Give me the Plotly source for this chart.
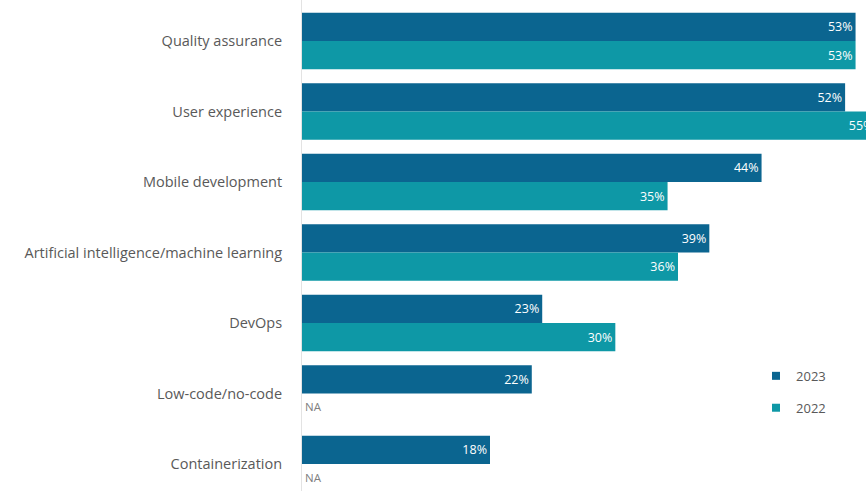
import plotly.graph_objects as go

categories = [
    "Quality assurance",
    "User experience",
    "Mobile development",
    "Artificial intelligence/machine learning",
    "DevOps",
    "Low-code/no-code",
    "Containerization",
]
values_2023 = [53, 52, 44, 39, 23, 22, 18]
values_2022 = [53, 55, 35, 36, 30, None, None]

color_2023 = "#0b6590"
color_2022 = "#0e98a6"
font_family = "'Open Sans', Lato, sans-serif"

fig = go.Figure()

for name, vals, color in [("2023", values_2023, color_2023), ("2022", values_2022, color_2022)]:
    fig.add_trace(go.Bar(
        y=categories,
        x=vals,
        orientation="h",
        name=name,
        marker=dict(color=color, line=dict(width=0)),
        text=[f"{v}%" if v is not None else "" for v in vals],
        textposition="inside",
        insidetextanchor="end",
        textfont=dict(color="white", size=12.5, family=font_family),
        showlegend=False,
        hoverinfo="skip",
    ))

# Legend entries as small square markers
for name, color in [("2023", color_2023), ("2022", color_2022)]:
    fig.add_trace(go.Scatter(
        x=[None], y=[None], mode="markers", name=name,
        legendgroup=name,
        marker=dict(symbol="square", size=8, color=color),
    ))

# "NA" where a 2022 value is missing
for cat, v in zip(categories, values_2022):
    if v is None:
        fig.add_annotation(
            x=0, y=cat, xref="x", yref="y", text="NA", showarrow=False,
            xanchor="left", yanchor="middle", xshift=1, yshift=-13,
            font=dict(size=11.5, color="#7f7f7f", family=font_family),
        )

fig.update_layout(
    width=866, height=491,
    margin=dict(l=302, r=0, t=0, b=0),
    paper_bgcolor="white", plot_bgcolor="white",
    barmode="group", bargap=0.2, bargroupgap=0,
    font=dict(family=font_family, color="#595959"),
    legend=dict(
        x=0.805, y=0.265, xanchor="left", yanchor="top",
        tracegroupgap=12, font=dict(size=13, color="#595959", family=font_family),
        bgcolor="rgba(0,0,0,0)",
    ),
    xaxis=dict(range=[0, 54.0], visible=False, fixedrange=True),
    yaxis=dict(
        type="category",
        range=[6.383, -0.582],
        showline=True, linecolor="#e3e3e3", linewidth=1,
        showgrid=False, zeroline=False, ticks="",
        ticklabelstandoff=16,
        tickfont=dict(size=14.5, color="#595959", family=font_family),
    ),
)

fig.write_html("out.html")
